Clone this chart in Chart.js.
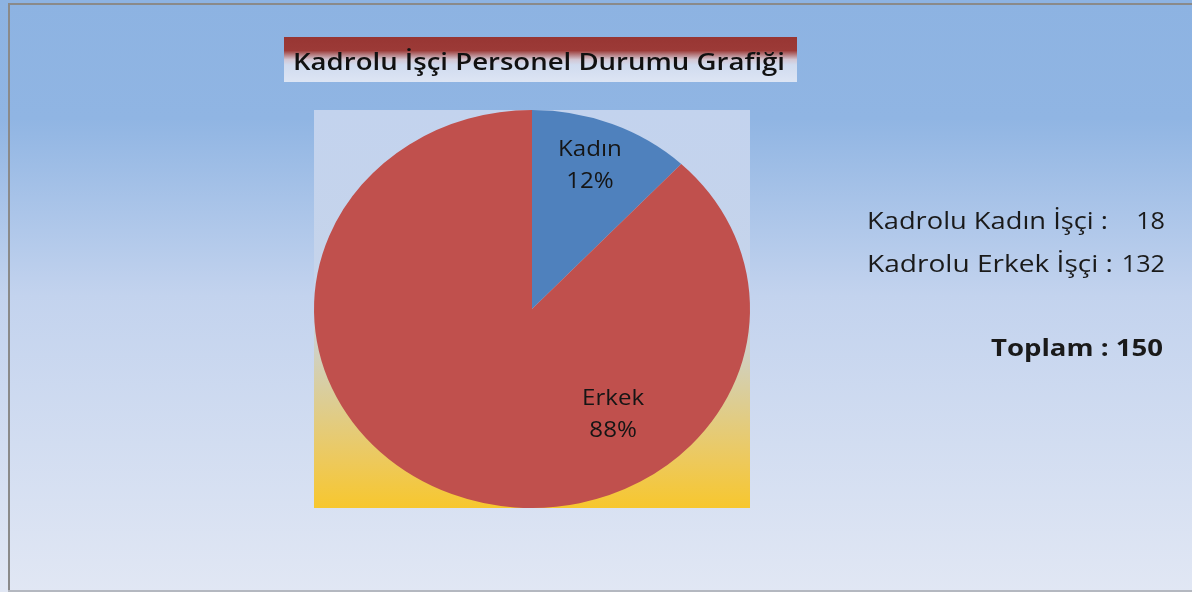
<!DOCTYPE html>
<html><head><meta charset="utf-8">
<script src="https://cdn.jsdelivr.net/npm/chart.js@4.4.1/dist/chart.umd.min.js"></script>
<style>html,body{margin:0;padding:0;background:#fff;overflow:hidden}canvas{display:block}</style>
</head><body>
<canvas id="c" width="1192" height="592"></canvas>
<script>
const titleText = 'Kadrolu İşçi Personel Durumu Grafiği';
const categories = ['Kadın', 'Erkek'];
const values = [18, 132];
const colors = ['#4f81bd', '#c0504d'];
const sideLabels = ['Kadrolu Kadın İşçi :', 'Kadrolu Erkek İşçi :'];
const totalLabel = 'Toplam :';
const total = values.reduce((a, b) => a + b, 0);

const FONT = '"Open Sans", Lato, sans-serif';
const X_STRETCH = 218 / 199;
// label anchor offsets (in radius units) relative to pie centre
const labelAnchors = [[0.266, -0.72], [0.372, 0.53]];

function fitText(ctx, text, x, y, width, align) {
  const w = ctx.measureText(text).width;
  const s = width / w;
  ctx.save();
  ctx.textAlign = 'left';
  const left = align === 'right' ? x - width : x;
  ctx.translate(left, y); ctx.scale(s, 1);
  ctx.fillText(text, 0, 0);
  ctx.restore();
}
function stretchText(ctx, text, x, y, align) {
  const w = ctx.measureText(text).width * X_STRETCH;
  const left = align === 'right' ? x - w : align === 'center' ? x - w / 2 : x;
  ctx.save();
  ctx.textAlign = 'left';
  ctx.translate(left, y); ctx.scale(X_STRETCH, 1);
  ctx.fillText(text, 0, 0);
  ctx.restore();
}

const decor = {
  id: 'decor',
  beforeDraw(chart) {
    const ctx = chart.ctx, W = chart.width, H = chart.height, ca = chart.chartArea;
    ctx.save();
    let g = ctx.createLinearGradient(0, 0, 0, H);
    g.addColorStop(0, '#8db3e2'); g.addColorStop(0.2, '#90b5e3');
    g.addColorStop(0.5, '#c3d3ee'); g.addColorStop(1, '#e1e7f4');
    ctx.fillStyle = g; ctx.fillRect(0, 0, W, H);
    // frame
    ctx.fillStyle = '#8a8a8a';
    ctx.fillRect(8, 3, W - 8, 2);
    ctx.fillRect(8, 3, 2, H - 3);
    ctx.fillStyle = '#b4b8c0';
    ctx.fillRect(8, H - 2, W - 8, 2);
    // plot area
    g = ctx.createLinearGradient(0, ca.top, 0, ca.bottom);
    g.addColorStop(0, '#c3d3ee'); g.addColorStop(0.5, '#c6d4ea');
    g.addColorStop(0.7, '#d9ce9f'); g.addColorStop(0.88, '#edc95c'); g.addColorStop(1, '#f7c72e');
    ctx.fillStyle = g; ctx.fillRect(ca.left, ca.top, ca.right - ca.left, ca.bottom - ca.top);
    // title box
    const tx = 284, ty = 37, tw = 513, th = 45;
    g = ctx.createLinearGradient(0, ty, 0, ty + th);
    g.addColorStop(0, '#983633'); g.addColorStop(0.3, '#9c3a37');
    g.addColorStop(0.5, '#d3c6d2'); g.addColorStop(0.62, '#d0dbef'); g.addColorStop(1, '#dde5f4');
    ctx.fillStyle = g; ctx.fillRect(tx, ty, tw, th);
    ctx.fillStyle = '#111';
    ctx.font = '600 24px ' + FONT;
    ctx.textBaseline = 'alphabetic';
    fitText(ctx, titleText, 293, 70, 492, 'left');
    // side text
    ctx.fillStyle = '#1a1a1a';
    ctx.font = '23px ' + FONT;
    const baselines = [229, 272];
    const labelWidths = [241, 246];
    sideLabels.forEach((t, i) => {
      fitText(ctx, t, 867, baselines[i], labelWidths[i], 'left');
      stretchText(ctx, String(values[i]), 1165, baselines[i], 'right');
    });
    ctx.font = 'bold 23px ' + FONT;
    fitText(ctx, totalLabel + ' ' + total, 1163, 356, 172, 'right');
    ctx.restore();
  },
  beforeDatasetsDraw(chart) {
    const ctx = chart.ctx, a = chart.getDatasetMeta(0).data[0];
    ctx.save();
    ctx.translate(a.x, a.y); ctx.scale(X_STRETCH, 1); ctx.translate(-a.x, -a.y);
  },
  afterDatasetsDraw(chart) {
    const ctx = chart.ctx;
    ctx.restore();
    const arcs = chart.getDatasetMeta(0).data;
    ctx.save();
    ctx.fillStyle = '#151515';
    ctx.font = '22px ' + FONT;
    ctx.textBaseline = 'middle';
    arcs.forEach((a, i) => {
      const r = a.outerRadius;
      const cx = a.x + labelAnchors[i][0] * r * X_STRETCH;
      const cy = a.y + labelAnchors[i][1] * r;
      const pct = Math.round(values[i] / total * 100) + '%';
      stretchText(ctx, categories[i], cx, cy - 16, 'center');
      stretchText(ctx, pct, cx, cy + 16, 'center');
    });
    ctx.restore();
  }
};

new Chart(document.getElementById('c'), {
  type: 'pie',
  data: { labels: categories, datasets: [{ data: values, backgroundColor: colors, borderWidth: 0 }] },
  options: {
    responsive: false, animation: false,
    layout: { padding: { left: 314, right: 442, top: 110, bottom: 84 } },
    plugins: { legend: { display: false }, tooltip: { enabled: false }, title: { display: false } }
  },
  plugins: [decor]
});
</script>
</body></html>
